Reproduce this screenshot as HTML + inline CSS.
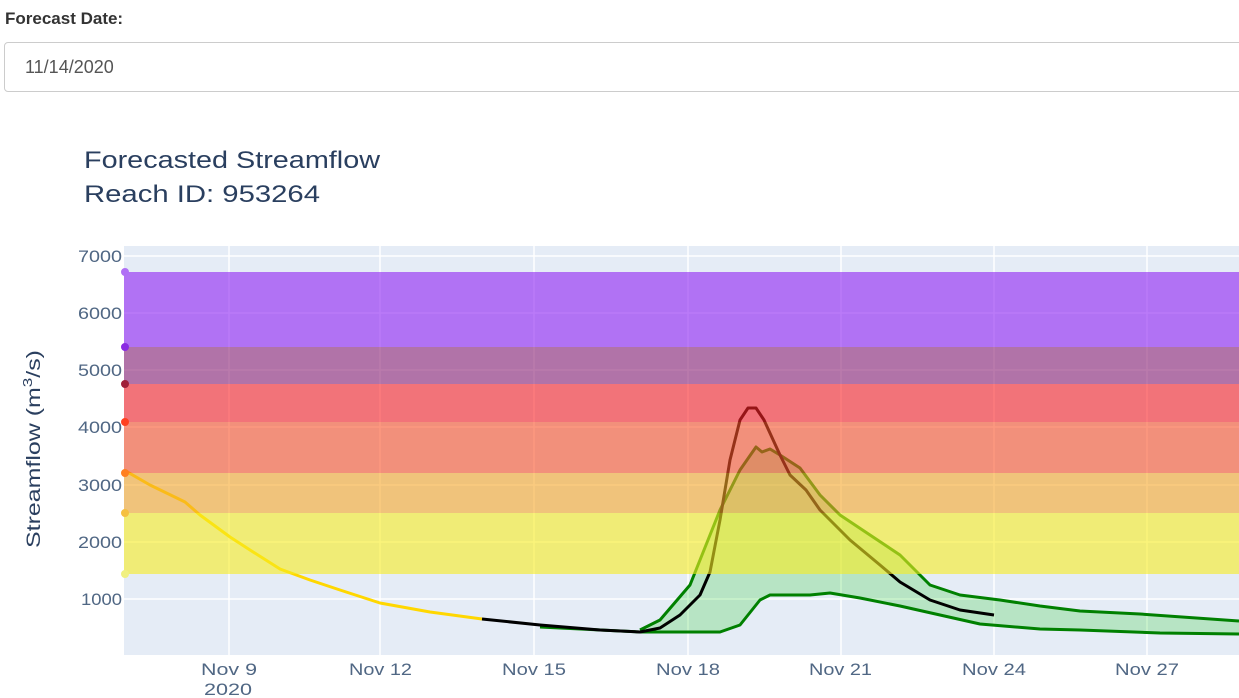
<!DOCTYPE html><html><head><style>
body{margin:0;width:1239px;height:698px;overflow:hidden;background:#fff;font-family:"Liberation Sans",sans-serif}
.lab{position:absolute;left:5px;top:9px;font-weight:bold;font-size:17px;color:#333}
.inp{position:absolute;left:4px;top:42px;width:1250px;height:50px;border:1px solid #ccc;border-radius:4px;box-sizing:border-box}
.inp span{position:absolute;left:20px;top:14px;font-size:18px;color:#555}
</style></head><body>
<div class="lab">Forecast Date:</div>
<div class="inp"><span>11/14/2020</span></div>
<svg width="1239" height="698" style="position:absolute;left:0;top:0" font-family="Liberation Sans,sans-serif">
<text x="84" y="168" font-size="24" fill="#2a3f5f" textLength="296" lengthAdjust="spacingAndGlyphs">Forecasted Streamflow</text>
<text x="84" y="202" font-size="24" fill="#2a3f5f" textLength="236" lengthAdjust="spacingAndGlyphs">Reach ID: 953264</text>
<rect x="124" y="246" width="1115" height="409" fill="#e5ecf6"/>
<g stroke="#fff" stroke-width="1.5">
<line x1="124" x2="1239" y1="256" y2="256"/><line x1="124" x2="1239" y1="313" y2="313"/><line x1="124" x2="1239" y1="370" y2="370"/><line x1="124" x2="1239" y1="427" y2="427"/><line x1="124" x2="1239" y1="485" y2="485"/><line x1="124" x2="1239" y1="542" y2="542"/><line x1="124" x2="1239" y1="599" y2="599"/>
<line x1="229" x2="229" y1="246" y2="655"/><line x1="380" x2="380" y1="246" y2="655"/><line x1="534" x2="534" y1="246" y2="655"/><line x1="688" x2="688" y1="246" y2="655"/><line x1="841" x2="841" y1="246" y2="655"/><line x1="994" x2="994" y1="246" y2="655"/><line x1="1147" x2="1147" y1="246" y2="655"/>
</g>
<g font-size="17" fill="#506784" lengthAdjust="spacingAndGlyphs">
<text x="78" y="262" textLength="44" lengthAdjust="spacingAndGlyphs">7000</text><text x="78" y="319" textLength="44" lengthAdjust="spacingAndGlyphs">6000</text><text x="78" y="376" textLength="44" lengthAdjust="spacingAndGlyphs">5000</text><text x="78" y="433" textLength="44" lengthAdjust="spacingAndGlyphs">4000</text><text x="78" y="491" textLength="44" lengthAdjust="spacingAndGlyphs">3000</text><text x="78" y="548" textLength="44" lengthAdjust="spacingAndGlyphs">2000</text><text x="81" y="605" textLength="41" lengthAdjust="spacingAndGlyphs">1000</text>
</g>
<g font-size="17" fill="#506784">
<text x="201" y="675" textLength="56" lengthAdjust="spacingAndGlyphs">Nov 9</text><text x="204" y="695" textLength="48" lengthAdjust="spacingAndGlyphs">2020</text>
<text x="349" y="675" textLength="63" lengthAdjust="spacingAndGlyphs">Nov 12</text><text x="502" y="675" textLength="64" lengthAdjust="spacingAndGlyphs">Nov 15</text><text x="656" y="675" textLength="64" lengthAdjust="spacingAndGlyphs">Nov 18</text><text x="809" y="675" textLength="63" lengthAdjust="spacingAndGlyphs">Nov 21</text><text x="962" y="675" textLength="64" lengthAdjust="spacingAndGlyphs">Nov 24</text><text x="1115" y="675" textLength="64" lengthAdjust="spacingAndGlyphs">Nov 27</text>
</g>
<text transform="translate(40,548) rotate(-90)" font-size="19" fill="#2a3f5f" textLength="198" lengthAdjust="spacingAndGlyphs">Streamflow (m<tspan font-size="13" dy="-8">3</tspan><tspan dy="8">/s)</tspan></text>
<polygon fill="rgba(0,200,0,0.2)" points="640,630 660,620 690,585 720,510 740,470 756,447 762,452 770,449 780,455 800,468 820,495 840,515 870,535 900,555 930,585 960,595 1000,600 1040,606 1080,611 1140,614 1239,621 1239,634 1160,633 1080,630 1040,629 980,624 940,615 900,606 860,598 830,593 810,595 790,595 770,595 760,600 740,625 720,632 640,632"/>
<g fill="none" stroke-width="3" stroke-linejoin="round">
<polyline stroke="#ffd700" points="124,470 150,485 185,502 200,515 230,537 250,550 280,569 310,580 340,590 380,603 430,612 482,619"/>
<polyline stroke="#008000" points="640,630 660,620 690,585 720,510 740,470 756,447 762,452 770,449 780,455 800,468 820,495 840,515 870,535 900,555 930,585 960,595 1000,600 1040,606 1080,611 1140,614 1239,621"/>
<polyline stroke="#008000" points="540,627 640,632 720,632 740,625 760,600 770,595 790,595 810,595 830,593 860,598 900,606 940,615 980,624 1040,629 1080,630 1160,633 1239,634"/>
<polyline stroke="#000" points="482,619 540,625 600,630 640,632 660,628 680,615 700,595 710,572 720,520 730,460 740,420 748,408 756,408 764,420 780,455 790,475 806,490 820,510 850,540 880,565 900,582 930,600 960,610 994,615"/>
</g>
<rect x="124" y="272" width="1115" height="75" fill="rgba(141,33,244,0.6)"/>
<rect x="124" y="347" width="1115" height="37" fill="rgba(141,35,116,0.6)"/>
<rect x="124" y="384" width="1115" height="38" fill="rgba(250,35,38,0.6)"/>
<rect x="124" y="422" width="1115" height="51" fill="rgba(250,83,41,0.6)"/>
<rect x="124" y="473" width="1115" height="40" fill="rgba(247,168,41,0.6)"/>
<rect x="124" y="513" width="1115" height="61" fill="rgba(247,236,33,0.6)"/>
<g>
<circle cx="125" cy="272" r="4" fill="#b06ff5"/><circle cx="125" cy="347" r="4" fill="#8a2be2"/><circle cx="125" cy="384" r="4" fill="#a0203a"/><circle cx="125" cy="422" r="4" fill="#ff4020"/><circle cx="125" cy="473" r="4" fill="#ff7f20"/><circle cx="125" cy="513" r="4" fill="#f5c040"/><circle cx="125" cy="574" r="4" fill="#f0f080"/>
</g>
</svg>
</body></html>
